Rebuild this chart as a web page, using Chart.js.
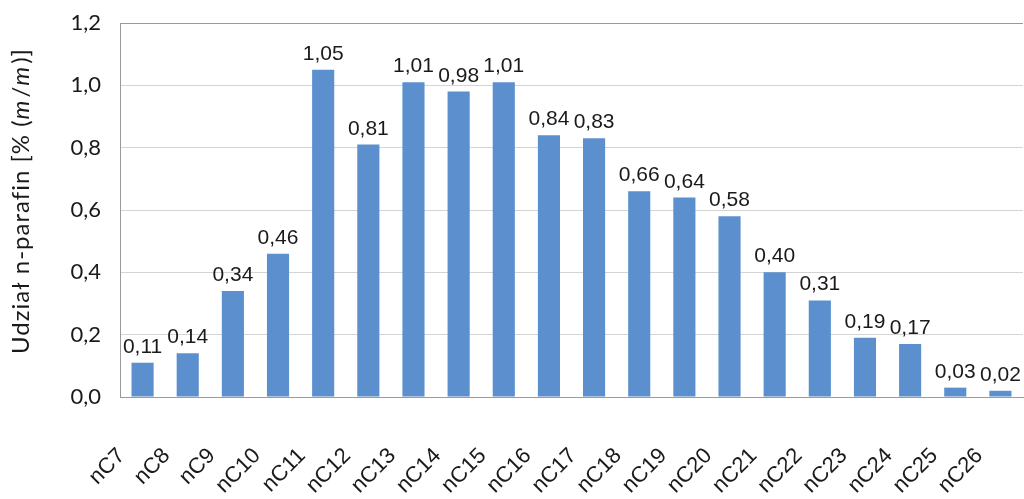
<!DOCTYPE html>
<html>
<head>
<meta charset="utf-8">
<script src="https://cdn.jsdelivr.net/npm/chart.js@4/dist/chart.umd.min.js"></script>
<style>
  html, body { margin: 0; padding: 0; background: #fff; }
  #wrap { width: 1024px; height: 499px; }
</style>
</head>
<body>
<div id="wrap"><canvas id="chart"></canvas></div>
<script>
"use strict"

// categories and values
const labels = ["nC7", "nC8", "nC9", "nC10", "nC11", "nC12", "nC13", "nC14", "nC15", "nC16",
  "nC17", "nC18", "nC19", "nC20", "nC21", "nC22", "nC23", "nC24", "nC25", "nC26"];
const values = [0.11, 0.14, 0.34, 0.46, 1.05, 0.81, 1.01, 0.98, 1.01, 0.84,
  0.83, 0.66, 0.64, 0.58, 0.40, 0.31, 0.19, 0.17, 0.03, 0.02];
const yTicks = [0, 0.2, 0.4, 0.6, 0.8, 1.0, 1.2];

const comma = (v, d) => v.toFixed(d).replace(".", ",");

// value labels above each bar
const barLabels = {
  id: "barLabels",
  afterDatasetsDraw(chart) {
    const ctx = chart.ctx;
    const meta = chart.getDatasetMeta(0);
    ctx.save();
    ctx.font = "21px 'Liberation Sans', Arial, sans-serif";
    ctx.fillStyle = "#1a1a1a";
    ctx.textAlign = "center";
    ctx.textBaseline = "alphabetic";
    meta.data.forEach((bar, i) => {
      ctx.fillText(comma(values[i], 2), bar.x, bar.y - 10);
    });
    ctx.restore();
  }
};

// y title with italic m/m
const yTitle = {
  id: "yTitle",
  afterDraw(chart) {
    const ctx = chart.ctx;
    const parts = [
      ["Udział n-parafin [% (", false],
      ["m", true],
      ["/", false],
      ["m", true],
      [")]", false]
    ];
    const fontN = "24px Lato, 'Open Sans', sans-serif";
    const fontI = "italic 24px Lato, 'Open Sans', sans-serif";
    ctx.save();
    ctx.letterSpacing = "1px";
    let total = 0;
    parts.forEach(p => {
      ctx.font = p[1] ? fontI : fontN;
      total += ctx.measureText(p[0]).width + (p[1] ? 2 : 0);
    });
    ctx.translate(29, 201);
    ctx.rotate(-Math.PI / 2);
    ctx.fillStyle = "#1a1a1a";
    ctx.textBaseline = "alphabetic";
    ctx.textAlign = "left";
    let x = -total / 2;
    parts.forEach(p => {
      ctx.font = p[1] ? fontI : fontN;
      ctx.fillText(p[0], x, 0);
      x += ctx.measureText(p[0]).width + (p[1] ? 2 : 0);
    });
    ctx.restore();
  }
};

const data = {
  labels: labels,
  datasets: [{
    data: values,
    backgroundColor: "#5b8fce",
    barPercentage: 0.98,
    categoryPercentage: 0.5
  }]
};

const config = {
  type: "bar",
  data: data,
  plugins: [barLabels, yTitle],
  options: {
    responsive: false,
    animation: false,
    layout: { padding: { top: 23, right: 1, left: 0, bottom: 0 } },
    plugins: {
      legend: { display: false },
      tooltip: { enabled: false }
    },
    scales: {
      x: {
        grid: { drawOnChartArea: false, drawTicks: false },
        border: { display: true, color: "#9a9a9a", width: 1 },
        ticks: {
          minRotation: 45,
          maxRotation: 45,
          padding: 46,
          labelOffset: -21,
          color: "#1a1a1a",
          font: { family: "'Liberation Sans', Arial, sans-serif", size: 22 }
        },
        afterFit(scale) {
          scale.height = 102;
          scale.paddingLeft = 0;
          scale.paddingRight = 0;
        }
      },
      y: {
        min: 0,
        max: 1.2,
        afterBuildTicks(scale) {
          scale.ticks = yTicks.map(v => ({ value: v }));
        },
        grid: {
          drawTicks: false,
          color: ctx => (ctx.tick && ctx.tick.value === 1.2 ? "#9a9a9a" : "#d4d4d4"),
          lineWidth: 1
        },
        border: { display: true, color: "#9a9a9a", width: 1 },
        ticks: {
          padding: 19,
          color: "#1a1a1a",
          font: { family: "Lato, 'Open Sans', sans-serif", size: 22 },
          callback: v => comma(v, 1)
        },
        afterFit(scale) {
          scale.width = 120;
          scale.paddingTop = 0;
          scale.paddingBottom = 0;
        }
      }
    }
  }
};

const canvas = document.querySelector("#chart");
canvas.width = 1024;
canvas.height = 499;
const chart = new Chart(canvas, config);
</script>
</body>
</html>
